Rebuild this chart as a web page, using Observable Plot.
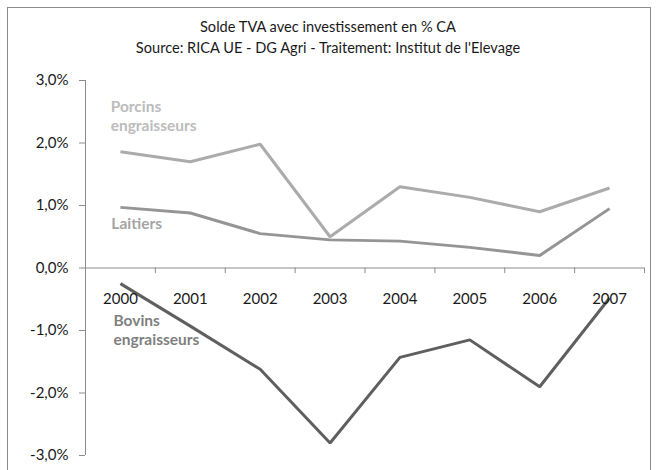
<!DOCTYPE html>
<html><head><meta charset="utf-8">
<script src="https://cdn.jsdelivr.net/npm/d3@7"></script>
<script src="https://cdn.jsdelivr.net/npm/@observablehq/plot@0.6"></script>
<style>
body{margin:0;background:#fff;font-family:Lato,"Open Sans",sans-serif;}
#wrap{position:relative;width:656px;height:470px;overflow:hidden;}
#frame{position:absolute;left:7px;top:7px;width:644px;height:470px;border:1px solid #8c8c8c;box-sizing:border-box;}
.t{position:absolute;left:0;width:656px;text-align:center;font-size:14.6px;color:#1a1a1a;}
#chart{position:absolute;left:0;top:0;}
</style></head>
<body>
<div id="wrap">
<div id="frame"></div>
<div class="t" style="top:18px">Solde TVA avec investissement en % CA</div>
<div class="t" style="top:39px">Source: RICA UE - DG Agri - Traitement: Institut de l'Elevage</div>
<div id="chart"></div>
</div>
<script>
const years = [2000, 2001, 2002, 2003, 2004, 2005, 2006, 2007];
const porcins = [1.86, 1.70, 1.98, 0.50, 1.30, 1.13, 0.90, 1.28];
const laitiers = [0.97, 0.88, 0.55, 0.45, 0.43, 0.33, 0.20, 0.95];
const bovins = [-0.25, -0.93, -1.62, -2.80, -1.43, -1.15, -1.90, -0.48];
const yTicks = [-3, -2, -1, 0, 1, 2, 3];
const seriesNames = ["Porcins\nengraisseurs", "Laitiers", "Bovins\nengraisseurs"];
const labelX = [1999.86, 1999.87, 1999.9];
const labelY = [2.44, 0.72, -0.98];
const lineColors = ["#ababab", "#959595", "#5f5f5f"];
const labelColors = ["#bcbcbc", "#a5a5a5", "#7f7f7f"];

const boundaries = years.map(y => y - 0.5).concat([years[years.length - 1] + 0.5]);
const series = [porcins, laitiers, bovins];
const labels = seriesNames.map((n, i) => ({name: n, x: labelX[i], y: labelY[i], c: labelColors[i]}));
const fmt = d => d.toFixed(1).replace(".", ",") + "%";

const plot = Plot.plot({
  width: 656, height: 470,
  marginTop: 80, marginBottom: 15, marginLeft: 85, marginRight: 12,
  style: {fontFamily: "Lato, 'Open Sans', sans-serif", background: "transparent"},
  x: {type: "linear", domain: [boundaries[0], boundaries[boundaries.length - 1]], axis: null},
  y: {domain: [-3, 3], axis: null},
  marks: [
    Plot.ruleX([boundaries[0]], {stroke: "#8c8c8c", strokeWidth: 1}),
    Plot.axisY({ticks: yTicks, tickFormat: fmt, tickSize: 6, tickPadding: 11, fontSize: 15, stroke: "#8c8c8c", color: "#1a1a1a", label: null}),
    Plot.ruleY([0], {stroke: "#8c8c8c", strokeWidth: 1}),
    Plot.ruleX(boundaries, {x: d => d, y1: 0, y2: -0.09, stroke: "#8c8c8c"}),
    ...series.map((vals, i) => Plot.line(years, {x: d => d, y: (d, j) => vals[j], stroke: lineColors[i], strokeWidth: 3, curve: "linear", strokeLinejoin: "miter", strokeLinecap: "butt"})),
    Plot.text(years, {x: d => d, y: 0, dy: 31, text: d => String(d), fontSize: 15, fill: "#1a1a1a"}),
    Plot.text(labels, {x: "x", y: "y", text: "name", fill: "c", textAnchor: "start", fontSize: 15.5, fontWeight: "bold", lineHeight: 1.25})
  ]
});
document.getElementById("chart").appendChild(plot);
</script>
</body></html>
